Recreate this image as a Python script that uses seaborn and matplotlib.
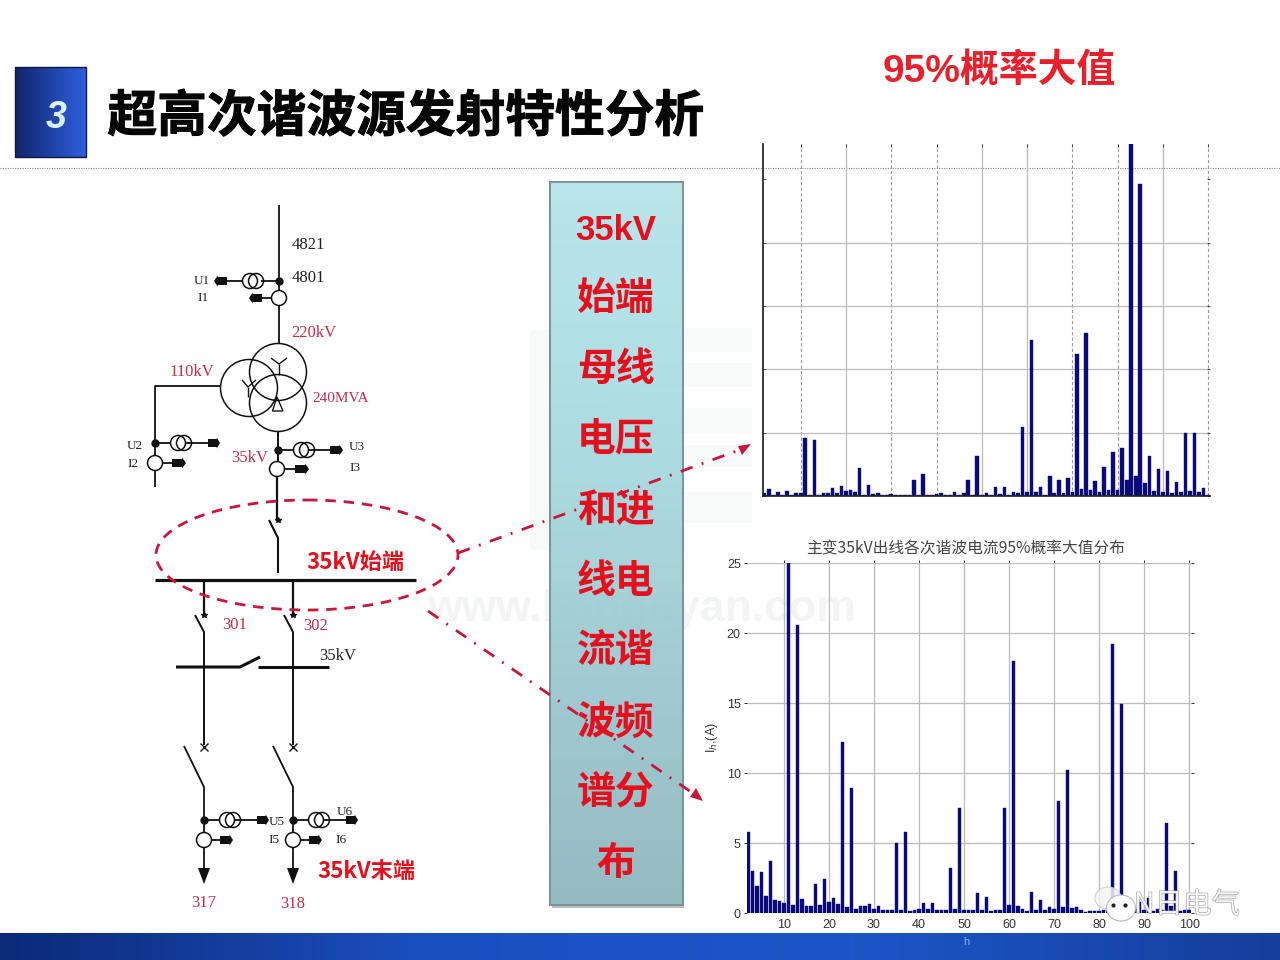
import numpy as np
import pandas as pd
import matplotlib
matplotlib.use('Agg')
import matplotlib.pyplot as plt
import matplotlib.patheffects as pe
from matplotlib.patches import Circle, Ellipse, Polygon, Rectangle
import seaborn as sns

harmonics = list(range(2, 101))

# upper chart: 35kV line, bars (h83 runs off the top)
upper_vals = [0.2, 0.55, 0.05, 0.3, 0.05, 0.4, 0.05, 0.2, 0.25, 4.55,
              0.1, 4.4, 0.1, 0.2, 0.2, 0.63, 0.2, 0.8, 0.4, 0.45,
              0.3, 2.2, 0.1, 0.85, 0.15, 0.2, 0.05, 0.1, 0.15, 0.1,
              0.1, 0.1, 0.05, 1.25, 0.05, 1.75, 0.05, 0.1, 0.15, 0.2,
              0.1, 0.05, 0.3, 0.05, 0.2, 1.25, 0.1, 3.15, 0.1, 0.2,
              0.1, 0.75, 0.15, 0.75, 0.1, 0.3, 0.25, 5.45, 0.35, 12.35,
              0.3, 0.75, 0.1, 1.55, 0.2, 1.25, 0.2, 1.45, 0.35, 11.2,
              0.55, 12.85, 0.45, 1.15, 0.3, 2.3, 0.45, 3.5, 0.45, 3.8,
              1.3, 30.0, 1.55, 24.65, 1.0, 3.15, 0.4, 2.1, 0.35, 2.0,
              0.2, 1.1, 0.3, 5.0, 0.4, 5.0, 0.3, 0.6, 0.1]

lower_vals = [5.8, 3.0, 1.9, 2.9, 1.2, 3.7, 0.9, 0.85, 0.7, 25.0,
              0.6, 20.6, 1.0, 0.5, 0.5, 2.1, 0.6, 2.4, 0.8, 1.1,
              0.65, 12.2, 0.4, 8.9, 0.3, 0.5, 0.5, 0.65, 0.3, 0.5,
              0.2, 0.2, 0.25, 5.0, 0.2, 5.8, 0.15, 0.2, 0.3, 0.75,
              0.3, 0.75, 0.2, 0.2, 0.2, 3.2, 0.3, 7.5, 0.25, 0.2,
              0.2, 1.4, 0.2, 1.15, 0.15, 0.2, 0.25, 7.5, 0.6, 18.0,
              0.5, 0.3, 0.15, 1.5, 0.2, 0.9, 0.2, 0.4, 0.3, 8.0,
              0.4, 10.2, 0.35, 0.4, 0.2, 0.1, 0.15, 0.15, 0.15, 0.2,
              0.3, 19.2, 0.5, 14.9, 0.6, 0.75, 0.3, 0.8, 0.2, 1.1,
              0.15, 0.3, 0.2, 6.4, 0.5, 3.0, 0.15, 0.2, 0.2]

x_ticks = list(range(10, 101, 10))
y_ticks = [0, 5, 10, 15, 20, 25]
panel_chars = ['35kV', '始端', '母线', '电压', '和进', '线电', '流谐', '波频', '谱分', '布']
page_title = '超高次谐波源发射特性分析'
chart_title = '主变35kV出线各次谐波电流95%概率大值分布'

sns.set_theme(style='white')
plt.rcParams['font.family'] = ['Noto Sans CJK SC', 'DejaVu Sans']
SERIF = ['Liberation Serif', 'DejaVu Serif']
SANS_CJK = ['Liberation Sans', 'Noto Sans CJK SC']
RED = '#e4101e'
DRED = '#c0304a'
RING = '#c8163c'
NAVY = '#0a0a7a'

fig = plt.figure(figsize=(12.8, 9.6), dpi=100, facecolor='white')
bg = fig.add_axes([0, 0, 1, 1])
bg.set_xlim(0, 1280)
bg.set_ylim(960, 0)
bg.axis('off')


def grad(ax, box, colors, horizontal=True, z=1, alpha=1.0):
    cmap = matplotlib.colors.LinearSegmentedColormap.from_list('g', colors)
    arr = np.linspace(0, 1, 256)
    arr = arr[None, :] if horizontal else arr[:, None]
    ax.imshow(arr, extent=(box[0], box[1], box[3], box[2]), cmap=cmap,
              aspect='auto', zorder=z, alpha=alpha)


def line(xs, ys, lw=1.3, color='#111111', z=3, **kw):
    bg.plot(xs, ys, color=color, lw=lw, zorder=z, solid_capstyle='butt', **kw)


def circ(x, y, r, lw=1.1, fill='white', z=4):
    bg.add_patch(Circle((x, y), r, fc=fill, ec='#111111', lw=lw, zorder=z))


def arrow(x, y, d=1, size=10):
    # small block arrow, d=1 points right
    bg.add_patch(Polygon([(x, y - 4), (x + d * size * .72, y - 4), (x + d * size * .72, y - 5.5),
                          (x + d * size, y), (x + d * size * .72, y + 5.5),
                          (x + d * size * .72, y + 4), (x, y + 4)], fc='#111111', ec='none', zorder=5))


def ct(x, y):
    # pair of overlapped rings for a voltage transformer
    circ(x - 3, y, 7.5, z=4)
    bg.add_patch(Circle((x + 3, y), 7.5, fc='none', ec='#111111', lw=1.1, zorder=5))


def txt(x, y, s, size=10, color='#222222', family=SERIF, **kw):
    kw.setdefault('ha', 'center')
    bg.text(x, y, s, fontsize=size, color=color, family=family, va='center', zorder=8, **kw)


# page furniture
grad(bg, (0, 1280, 933, 960), ['#0b2a78', '#1b4fc0', '#1d55c8', '#143f9c'])
grad(bg, (15, 86, 67, 157), ['#10246a', '#2f5fe0'])
bg.add_patch(Rectangle((15, 67), 71, 90, fc='none', ec='#101840', lw=1, zorder=2))
bg.text(56, 118, '3', color='#d8f0ff', fontsize=27, style='italic', weight='bold', ha='center',
        va='center', family=['Liberation Sans', 'DejaVu Sans'], zorder=3)
bg.text(406, 117, page_title, fontsize=35.8, weight='bold', color='#050505', ha='center', va='center',
        path_effects=[pe.withStroke(linewidth=0.7, foreground='#050505')])
bg.plot([0, 1280], [167.5, 167.5], color='#8a8a8a', lw=0.8, ls=(0, (1, 1.2)), zorder=1)
bg.text(999, 72, '95%概率大值', fontsize=28, weight='bold', color='#e8202c', ha='center', va='center',
        family=SANS_CJK)

# watermark, shows faintly through the panel
bg.text(642, 610, 'www.hanguyan.com', fontsize=32, color='#f3f4f4', ha='center', va='center',
        weight='bold', family=['Liberation Sans'], zorder=0)
for y0, y1 in [(328, 352), (363, 387), (408, 433), (445, 467), (492, 523)]:
    bg.add_patch(Rectangle((640, y0), 112, y1 - y0, fc='#f8f9f9', ec='none', zorder=0))
bg.add_patch(Rectangle((530, 330), 80, 220, fc='#f8f9f9', ec='none', zorder=0))

# teal text panel
grad(bg, (550, 683, 182, 905), ['#b4e4ea', '#a8dce2', '#9cc8d0', '#8db6be'], horizontal=False, z=2, alpha=0.94)
bg.add_patch(Rectangle((550, 182), 133, 723, fc='none', ec='#7c9098', lw=1.4, zorder=3))
bg.add_patch(Rectangle((552, 905), 132, 3, fc='#bdbdbd', ec='none', zorder=1))
for i, s in enumerate(panel_chars):
    bg.text(616, 230 + i * 70.5, s, fontsize=25 if i == 0 else 28, weight='bold', color=RED, ha='center',
            va='center', zorder=8, family=SANS_CJK)

# one-line diagram: incoming bay
line([279, 279], [205, 343])
bg.plot(279, 281, 'o', color='#111111', ms=5, zorder=5)
ct(253, 281)
line([226, 245], [281, 281])
line([261, 279], [281, 281])
arrow(227, 281, -1, 13)
line([262, 272], [298, 298])
arrow(262, 298, -1, 13)
circ(279, 298, 7.5)
txt(308, 245, '4821', 12)
txt(308, 278, '4801', 12)
txt(202, 281, 'U1', 9.5)
txt(203, 298, 'I1', 9.5)
txt(314, 333, '220kV', 12, DRED)
txt(192, 372, '110kV', 12, DRED)
txt(341, 398, '240MVA', 11, DRED)
txt(250, 458, '35kV', 12, DRED)

# three winding transformer
for cx, cy in [(278, 372), (249, 388), (278, 403)]:
    bg.add_patch(Circle((cx, cy), 28.5, fc='none', ec='#111111', lw=1.1, zorder=4))
line([279, 279], [364, 375], lw=1)
line([271, 279, 287], [358, 364, 358], lw=1)
line([248, 248], [387, 397], lw=1)
line([242, 248, 256], [380, 387, 380], lw=1)
bg.add_patch(Polygon([(277, 397), (272.5, 411), (283, 411)], fc='none', ec='#111111', lw=1, zorder=5))

# 110kV side
line([220, 155, 155], [386, 386, 487])
bg.plot(155, 443, 'o', color='#111111', ms=5, zorder=5)
line([155, 210], [443, 443])
ct(181, 443)
arrow(208, 443, 1, 12)
circ(155, 463, 7.5)
line([163, 174], [463, 463])
arrow(172, 463, 1, 14)
txt(135, 446, 'U2', 9.5)
txt(133, 464, 'I2', 9.5)

# 35kV side
bg.plot(278, 450, 'o', color='#111111', ms=5, zorder=5)
line([278, 330], [450, 450])
ct(304, 450)
arrow(330, 450, 1, 13)
circ(277, 469, 7.5)
line([284, 295], [469, 469])
arrow(295, 469, 1, 14)
txt(357, 447, 'U3', 9.5)
txt(355, 468, 'I3', 9.5)
line([278, 278], [432, 461], lw=1.4)
line([277, 277], [477, 521], lw=1.6)
line([269, 278, 278], [520, 538, 573], lw=1.5)
line([155, 416], [580, 580], lw=2.3)
bg.plot(278, 520, '*', color='#111111', ms=4, zorder=5)
txt(355, 562, '35kV始端', 16, RED, family=['Noto Sans CJK SC'], weight='bold')

# outgoing feeders
for fx in [204, 293]:
    line([fx, fx], [580, 615], lw=1.6)
    bg.plot(fx, 615, '*', color='#111111', ms=4, zorder=5)
    line([fx - 9, fx, fx], [615, 632, 745], lw=1.4)
    bg.plot(fx, 747, 'x', color='#111111', ms=6, mew=1, zorder=5)
    line([fx - 20, fx, fx], [746, 787, 876], lw=1.3)
    bg.plot(fx, 820, 'o', color='#111111', ms=5, zorder=5)
    line([fx, fx + 53], [820, 820])
    ct(fx + 26, 820)
    arrow(fx + 53, 820, 1, 12)
    circ(fx, 840, 7.5)
    line([fx + 8, fx + 17], [840, 840])
    arrow(fx + 16, 840, 1, 13)
    bg.add_patch(Polygon([(fx - 6, 868), (fx + 6, 868), (fx, 884)], fc='#111111', ec='none', zorder=5))
txt(235, 625, '301', 12, DRED)
txt(316, 626, '302', 12, DRED)
txt(338, 656, '35kV', 12)
line([176, 240, 260], [667, 667, 657], lw=2.2)
line([258, 329], [667, 667], lw=2.2)
txt(277, 822, 'U5', 9.5)
txt(274, 840, 'I5', 9.5)
txt(345, 812, 'U6', 9.5)
txt(341, 840, 'I6', 9.5)
txt(204, 903, '317', 12, DRED)
txt(293, 904, '318', 12, DRED)
txt(366, 871, '35kV末端', 16, RED, family=['Noto Sans CJK SC'], weight='bold')

# dashed selection ring and dash-dot leaders
bg.add_patch(Ellipse((307, 555), 302, 110, fc='none', ec=RING, lw=2.0,
                     ls=(0, (3.8, 2.8)), zorder=6))
bg.plot([458, 742], [553, 449], color=RING, lw=2.0, ls=(0, (4.5, 3.5, 0.7, 3.5)), zorder=7)
bg.add_patch(Polygon([(751, 444), (738, 446), (742, 455)], fc=RING, ec='none', zorder=7))
bg.plot([428, 694], [611, 794], color=RING, lw=2.0, ls=(0, (4.5, 3.5, 0.7, 3.5)), zorder=7)
bg.add_patch(Polygon([(703, 801), (690, 797), (696, 788)], fc=RING, ec='none', zorder=7))

bg.set_xlim(0, 1280)
bg.set_ylim(960, 0)


def px_axes(left, top, right, bottom):
    return fig.add_axes([left / 1280, 1 - bottom / 960, (right - left) / 1280, (bottom - top) / 960])


def spectrum(ax, vals):
    df = pd.DataFrame({'h': harmonics, 'val': vals})
    sns.barplot(data=df, x='h', y='val', native_scale=True, color=NAVY, saturation=1,
                width=0.8, edgecolor=NAVY, linewidth=0.3, ax=ax)
    ax.set_xlabel('')
    ax.set_ylabel('')
    ax.patch.set_alpha(0)
    ax.set_axisbelow(True)
    ax.grid(True, color='#bcbcbc', lw=0.9)
    for s in ax.spines.values():
        s.set_visible(False)


# upper chart (labels are cut off in the source picture)
top = px_axes(763, 144, 1210, 496)
spectrum(top, upper_vals)
top.set_xlim(1.66, 100.4)
top.set_ylim(0, 27.8)
top.set_xticks(x_ticks)
top.set_yticks(y_ticks)
top.tick_params(labelbottom=False, labelleft=False, length=2, width=0.7, direction='in',
                top=True, right=True, left=True, colors='#444444')
top.get_ygridlines()[-1].set_visible(False)
for i in [0, 2, 3, 6, 7, 9]:
    top.get_xgridlines()[i].set(ls=(0, (3, 2)), color='#9a9a9a', lw=0.8)
top.spines['left'].set_visible(True)
top.spines['left'].set_color('#222222')
top.spines['bottom'].set_visible(True)
top.spines['bottom'].set_color('#222222')

# lower chart
low = px_axes(747, 563, 1191, 913)
spectrum(low, lower_vals)
low.set_xlim(1.8, 100.4)
low.set_ylim(0, 25)
low.set_xticks(x_ticks)
low.set_yticks(y_ticks)
low.tick_params(length=2.5, width=0.7, colors='#333333', pad=2, bottom=False, left=True,
                top=True, right=True)
low.tick_params(axis='both', labelsize=9, labelfontfamily='Liberation Sans')
low.set_title(chart_title, fontsize=11.3, color='#444444', pad=7, x=0.493)
low.set_ylabel('I$_{h}$,(A)', fontsize=9, color='#333333', labelpad=5,
               family=['Liberation Sans', 'DejaVu Sans'])

# wechat style mark over the corner of the lower chart
over = fig.add_axes([0, 0, 1, 1], facecolor='none')
over.set_xlim(0, 1280)
over.set_ylim(960, 0)
over.axis('off')
over.add_patch(Ellipse((1108, 898), 26, 22, fc='#f4f4f4', ec='#cccccc', lw=0.8, alpha=0.85))
over.add_patch(Ellipse((1121, 908), 29, 26, fc='white', ec='#bbbbbb', lw=0.8))
over.plot([1113, 1125], [905, 905], 'o', color='#222222', ms=2)
over.text(1187, 905, 'N日电气', fontsize=20.5, color='white', ha='center', va='center', alpha=0.8,
          path_effects=[pe.withStroke(linewidth=0.8, foreground='#8a8a8a')])
# stray axis label sitting in the blue band
over.text(966, 942, 'h', fontsize=8, color='#8fb0ee', ha='center', va='center',
          family=['Liberation Sans'])

fig.savefig('out.png', dpi=100)
